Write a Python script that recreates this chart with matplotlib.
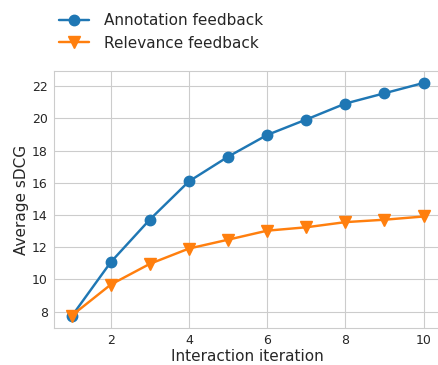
import matplotlib
matplotlib.use("Agg")
import matplotlib.pyplot as plt
import seaborn as sns

iterations = [1, 2, 3, 4, 5, 6, 7, 8, 9, 10]
annotation = [7.71, 11.07, 13.72, 16.09, 17.62, 18.97, 19.93, 20.92, 21.56, 22.2]
relevance = [7.75, 9.68, 10.97, 11.92, 12.47, 13.03, 13.24, 13.56, 13.71, 13.91]

sns.set_style("whitegrid")
plt.rcParams['font.family'] = ['DejaVu Sans']

fig = plt.figure(figsize=(4.39, 3.65), dpi=100)
ax = fig.add_axes([0.123, 0.101, 0.882, 0.704])

ax.plot(iterations, annotation, marker='o', markersize=7.5, linewidth=1.75,
        color='#1f77b4', label='Annotation feedback')
ax.plot(iterations, relevance, marker='v', markersize=8.5, linewidth=1.75,
        color='#ff7f0e', label='Relevance feedback')

ax.set_xlim(0.55, 10.45)
ax.set_ylim(6.98, 22.93)
ax.set_xticks([2, 4, 6, 8, 10])
ax.set_yticks([8, 10, 12, 14, 16, 18, 20, 22])
ax.tick_params(labelsize=9, colors='.15', pad=1)
ax.set_xlabel('Interaction iteration', fontsize=11, color='.15', labelpad=1)
ax.set_ylabel('Average sDCG', fontsize=11, color='.15', labelpad=2)

fig.legend(loc='upper left', bbox_to_anchor=(0.104, 1.0), frameon=False,
           fontsize=11, borderaxespad=0.45, handletextpad=1.0)

fig.savefig('out.png', dpi=100)
